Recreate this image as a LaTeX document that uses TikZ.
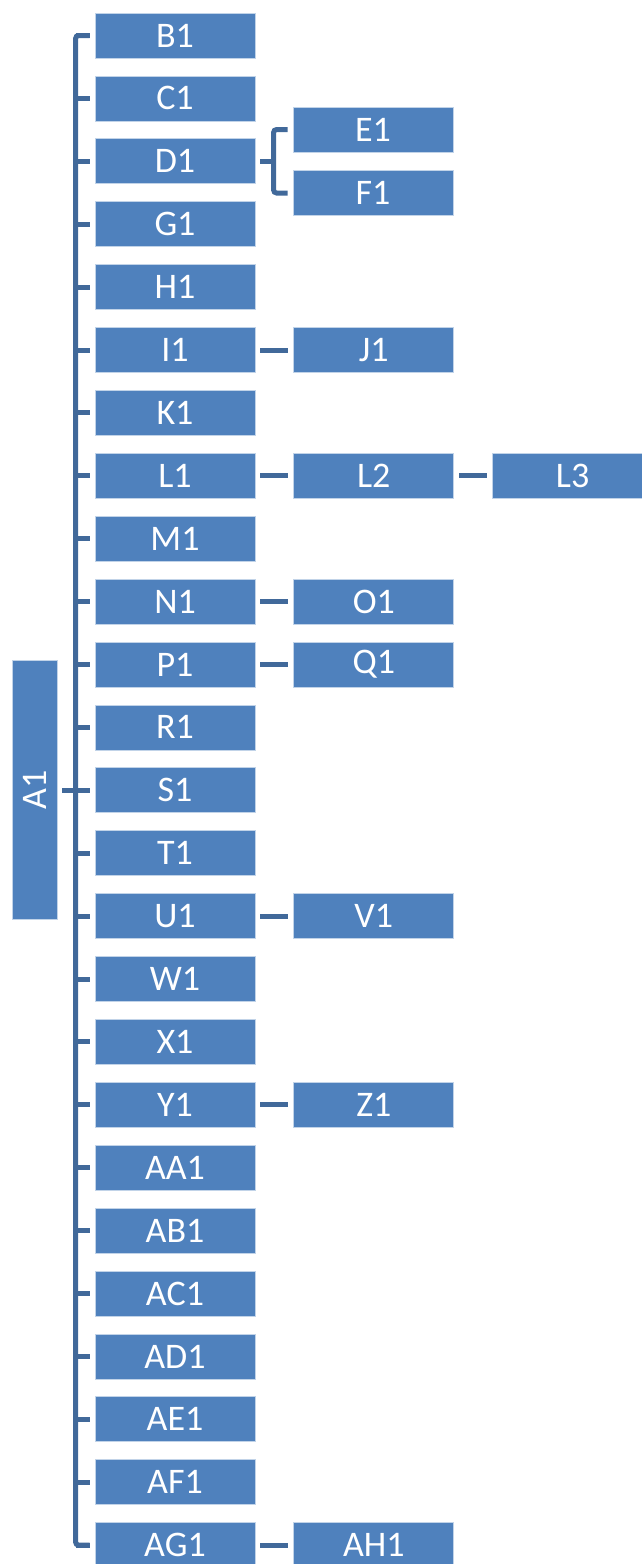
\documentclass[tikz,border=0pt]{standalone}
\usepackage{fontspec}
\setmainfont{Carlito}
\usetikzlibrary{positioning}
\definecolor{boxblue}{HTML}{4F81BD}
\definecolor{linkblue}{HTML}{41699A}
\begin{document}
\begin{tikzpicture}[x=1pt, y=-1pt,
	box/.style={fill=boxblue, draw=boxblue!35!white, line width=0.8pt, text=white, inner sep=0,
		minimum width=160pt, minimum height=45pt, font=\fontsize{36}{40}\selectfont},
	link/.style={linkblue, line width=5pt}]
	\useasboundingbox (0, 0) rectangle (642, 1564);

	\node[box, minimum width=45pt, minimum height=259pt] (A1) at (34.5, 790) {\rotatebox{90}{A1}};
	\draw[link] ([xshift=5pt]A1.east) -- ([xshift=19pt]A1.east);

	\foreach \n [count=\i from 0] in {B1, C1, D1, G1, H1, I1, K1, L1, M1, N1, P1, R1, S1, T1, U1, W1, X1, Y1, AA1, AB1, AC1, AD1, AE1, AF1, AG1} {
		\node[box] (\n) at (175, {35.5+62.9*\i}) {\n};
		\draw[link] ([xshift=-19pt]\n.west) -- ([xshift=-5pt]\n.west);
	}
	\draw[link, rounded corners=3pt] ([xshift=-5pt]B1.west) -- ([xshift=-19pt]B1.west) -- ([xshift=-19pt]AG1.west) -- ([xshift=-5pt]AG1.west);

	\node[box] (E1) at (373, 129.5) {E1};
	\node[box] (F1) at (373, 193) {F1};
	\draw[link] ([xshift=5pt]D1.east) -- ([xshift=19pt]D1.east);
	\draw[link, rounded corners=3pt] ([xshift=-5pt]E1.west) -- ([xshift=-19pt]E1.west) -- ([xshift=-19pt]F1.west) -- ([xshift=-5pt]F1.west);

	\node[box, right=38pt of I1] (J1) {J1};
	\node[box, right=38pt of L1] (L2) {L2};
	\node[box, right=38pt of L2] (L3) {L3};
	\node[box, right=38pt of N1] (O1) {O1};
	\node[box, right=38pt of P1] (Q1) {Q1};
	\node[box, right=38pt of U1] (V1) {V1};
	\node[box, right=38pt of Y1] (Z1) {Z1};
	\node[box, right=38pt of AG1] (AH1) {AH1};

	\foreach \a/\b in {I1/J1, L1/L2, L2/L3, N1/O1, P1/Q1, U1/V1, Y1/Z1, AG1/AH1}
		\draw[link] ([xshift=5pt]\a.east) -- ([xshift=-5pt]\b.west);

\end{tikzpicture}
\end{document}
